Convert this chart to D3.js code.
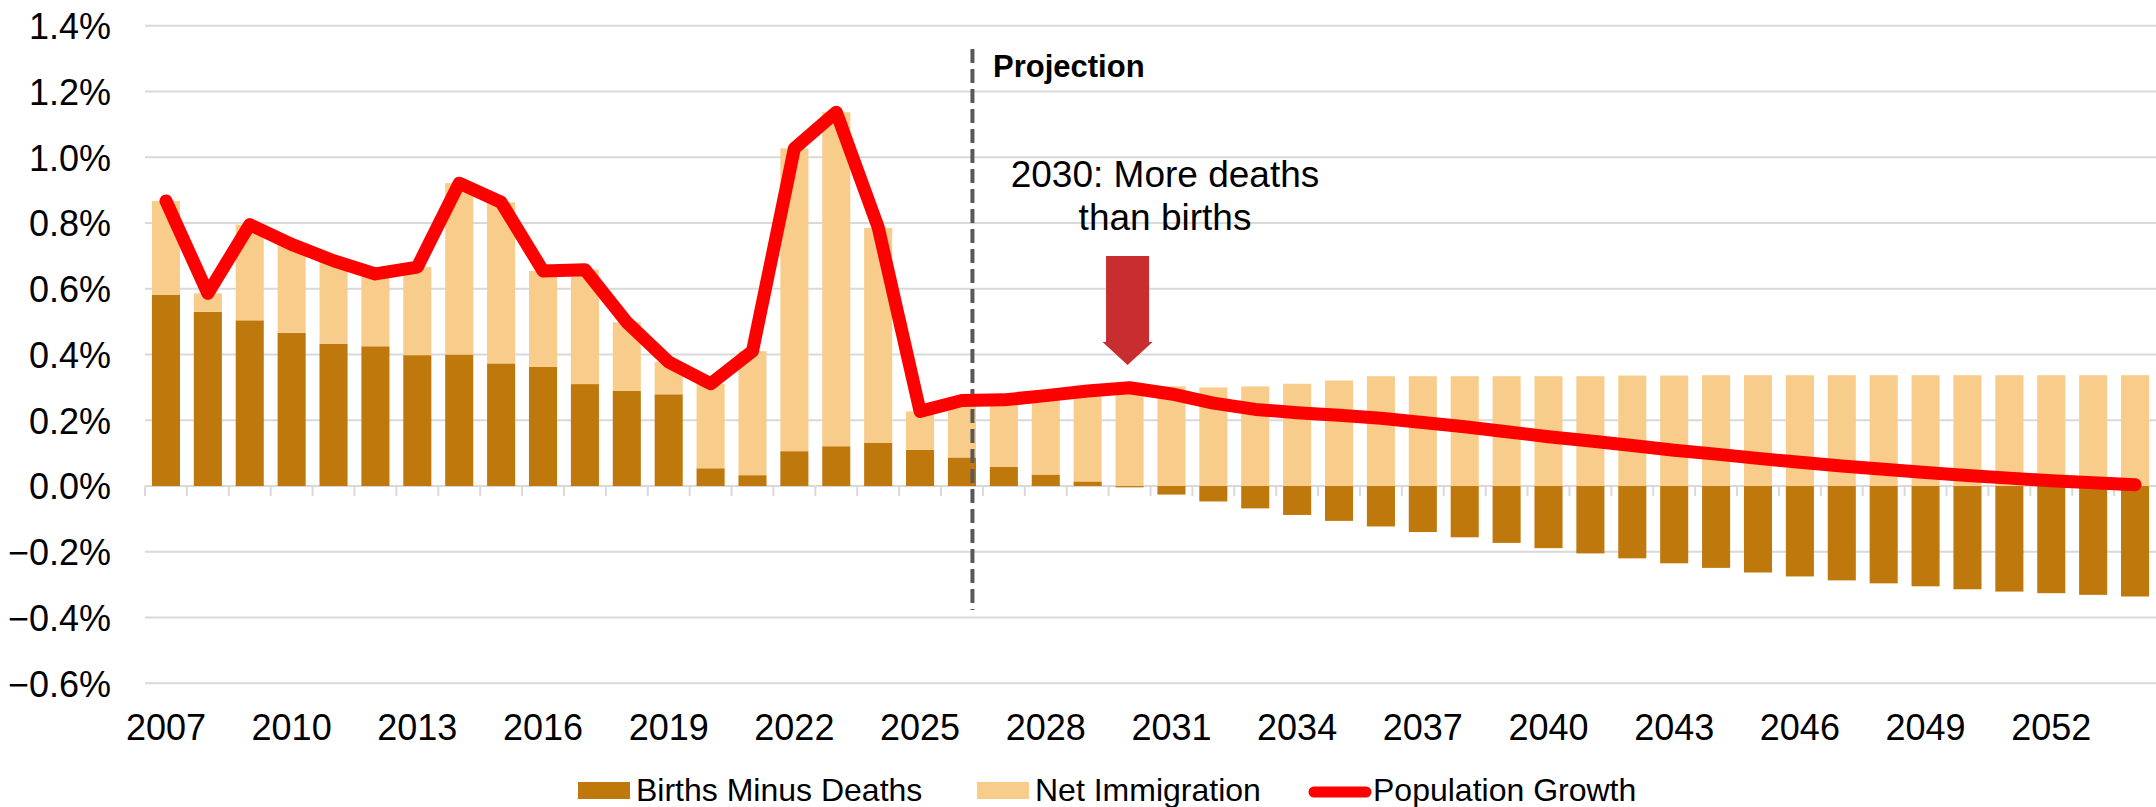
<!DOCTYPE html>
<html>
<head>
<meta charset="utf-8">
<script src="https://cdn.jsdelivr.net/npm/d3@7"></script>
<style>
  body { margin: 0; background: #fff; }
  text { font-family: "Liberation Sans", Arial, sans-serif; fill: #000; }
</style>
</head>
<body>
<div id="chart"></div>
<script>
// data (percent)
const years = d3.range(2007, 2055);
const birthsMinusDeaths = [
  0.581, 0.530, 0.504, 0.466, 0.433, 0.425, 0.398, 0.400, 0.373, 0.362,
  0.310, 0.289, 0.279, 0.054, 0.033, 0.106, 0.121, 0.132, 0.110, 0.087,
  0.059, 0.035, 0.014, -0.004, -0.026, -0.047, -0.068, -0.088, -0.106, -0.123,
  -0.140, -0.156, -0.173, -0.189, -0.205, -0.220, -0.235, -0.249, -0.263, -0.275,
  -0.287, -0.296, -0.305, -0.314, -0.321, -0.326, -0.331, -0.336
];
const netImmigration = [
  0.286, 0.056, 0.291, 0.269, 0.252, 0.220, 0.268, 0.521, 0.490, 0.292,
  0.348, 0.209, 0.098, 0.257, 0.377, 0.921, 1.016, 0.653, 0.117, 0.173,
  0.203, 0.240, 0.275, 0.304, 0.303, 0.300, 0.303, 0.311, 0.321, 0.334,
  0.334, 0.334, 0.334, 0.334, 0.334, 0.336, 0.336, 0.337, 0.337, 0.337,
  0.337, 0.337, 0.337, 0.337, 0.337, 0.337, 0.337, 0.337
];
const populationGrowth = [
  0.867, 0.586, 0.795, 0.735, 0.685, 0.645, 0.666, 0.921, 0.863, 0.654,
  0.658, 0.498, 0.377, 0.311, 0.410, 1.027, 1.137, 0.787, 0.227, 0.260,
  0.262, 0.275, 0.289, 0.299, 0.280, 0.252, 0.233, 0.223, 0.215, 0.206,
  0.193, 0.180, 0.165, 0.150, 0.137, 0.123, 0.109, 0.097, 0.084, 0.072,
  0.061, 0.051, 0.041, 0.032, 0.024, 0.016, 0.010, 0.004
];
const yTicks = [-0.6, -0.4, -0.2, 0, 0.2, 0.4, 0.6, 0.8, 1.0, 1.2, 1.4];
const xLabels = [2007, 2010, 2013, 2016, 2019, 2022, 2025, 2028, 2031, 2034, 2037, 2040, 2043, 2046, 2049, 2052];
const seriesNames = ["Births Minus Deaths", "Net Immigration", "Population Growth"];

const colBirths = "#bf780c", colImm = "#f8cd8c", colLine = "#ff0000",
      colGrid = "#d9d9d9", colArrow = "#c82d30";

const W = 2156, H = 807;
const m = {l: 145, r: 0, t: 25.7, b: 807 - 683.3};

const svg = d3.select("#chart").append("svg")
  .attr("width", W).attr("height", H);

// scales
const x = d3.scaleBand().domain(years).range([m.l, W - m.r]).padding(0);
const y = d3.scaleLinear().domain([-0.6, 1.4]).range([H - m.b, m.t]);
const bw = x.bandwidth() * 0.67;
const bx = d => x(d) + (x.bandwidth() - bw) / 2;

// gridlines
svg.append("g").selectAll("line").data(yTicks).enter().append("line")
  .attr("x1", m.l).attr("x2", W - m.r)
  .attr("y1", d => y(d)).attr("y2", d => y(d))
  .attr("stroke", colGrid).attr("stroke-width", 2);

// y axis labels
const yAxis = d3.axisLeft(y).tickValues(yTicks)
  .tickFormat(d => d3.format(".1f")(d) + "%").tickSize(0).tickPadding(0);
svg.append("g").attr("transform", "translate(111,0)").call(yAxis)
  .call(g => g.select(".domain").remove())
  .selectAll("text").attr("font-size", 36).attr("dy", "0.36em")
  .attr("font-family", "'Liberation Sans', Arial, sans-serif").attr("fill", "#000");

// x tick marks at band edges
svg.append("g").selectAll("line").data(years).enter().append("line")
  .attr("x1", d => x(d)).attr("x2", d => x(d))
  .attr("y1", y(0)).attr("y2", y(0) + 10)
  .attr("stroke", colGrid).attr("stroke-width", 2);

// x labels
svg.append("g").selectAll("text").data(xLabels).enter().append("text")
  .attr("x", d => x(d) + x.bandwidth() / 2).attr("y", 740)
  .attr("text-anchor", "middle").attr("font-size", 36).text(d => d);

// stacked bars: births minus deaths from zero, immigration stacked on positive part
const rows = years.map((yr, i) => ({yr: yr, b: birthsMinusDeaths[i], n: netImmigration[i]}));

svg.append("g").selectAll("rect").data(rows).enter().append("rect")
  .attr("x", d => bx(d.yr)).attr("width", bw)
  .attr("y", d => y(Math.max(0, d.b)))
  .attr("height", d => Math.abs(y(d.b) - y(0)))
  .attr("fill", colBirths);

svg.append("g").selectAll("rect").data(rows).enter().append("rect")
  .attr("x", d => bx(d.yr)).attr("width", bw)
  .attr("y", d => y(Math.max(0, d.b) + d.n))
  .attr("height", d => y(Math.max(0, d.b)) - y(Math.max(0, d.b) + d.n))
  .attr("fill", colImm);

// projection divider
const xDiv = x(2026) + x.bandwidth() * 0.75;
svg.append("line")
  .attr("x1", xDiv).attr("x2", xDiv).attr("y1", 49).attr("y2", 610)
  .attr("stroke", "#595959").attr("stroke-width", 4)
  .attr("stroke-dasharray", "14,6");
svg.append("text").attr("x", 993).attr("y", 77)
  .attr("font-size", 31).attr("font-weight", "bold").text("Projection");

// population growth line
const line = d3.line()
  .x((d, i) => x(years[i]) + x.bandwidth() / 2)
  .y(d => y(d));
svg.append("path").datum(populationGrowth)
  .attr("d", line).attr("fill", "none")
  .attr("stroke", colLine).attr("stroke-width", 13)
  .attr("stroke-linejoin", "round").attr("stroke-linecap", "round");

// annotation + arrow
const ax = x(2030) + x.bandwidth() / 2 - 2;
svg.append("text").attr("x", 1165).attr("y", 187)
  .attr("text-anchor", "middle").attr("font-size", 37)
  .selectAll("tspan").data(["2030: More deaths", "than births"]).enter().append("tspan")
  .attr("x", 1165).attr("dy", (d, i) => i ? 43 : 0).text(d => d);
svg.append("path")
  .attr("d", "M" + (ax - 21.5) + ",256 H" + (ax + 21.5) + " V342 H" + (ax + 25) +
    " L" + ax + ",365 L" + (ax - 25) + ",342 H" + (ax - 21.5) + " Z")
  .attr("fill", colArrow);

// legend
const leg = svg.append("g");
leg.append("rect").attr("x", 578).attr("y", 782).attr("width", 52).attr("height", 17).attr("fill", colBirths);
leg.append("text").attr("x", 636).attr("y", 801).attr("font-size", 32).text(seriesNames[0]);
leg.append("rect").attr("x", 977).attr("y", 782).attr("width", 52).attr("height", 17).attr("fill", colImm);
leg.append("text").attr("x", 1035).attr("y", 801).attr("font-size", 32).text(seriesNames[1]);
leg.append("line").attr("x1", 1314).attr("x2", 1366).attr("y1", 792).attr("y2", 792)
  .attr("stroke", colLine).attr("stroke-width", 11).attr("stroke-linecap", "round");
leg.append("text").attr("x", 1373).attr("y", 801).attr("font-size", 32).text(seriesNames[2]);
</script>
</body>
</html>
